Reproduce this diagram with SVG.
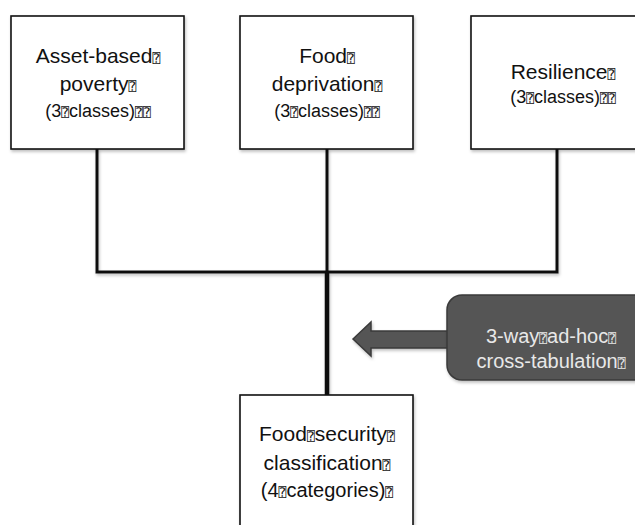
<svg xmlns="http://www.w3.org/2000/svg" width="635" height="525" viewBox="0 0 635 525">
  <defs>
    <filter id="sh" filterUnits="userSpaceOnUse" x="0" y="0" width="635" height="525">
      <feDropShadow dx="1" dy="2" stdDeviation="1.5" flood-color="#000" flood-opacity="0.25"/>
    </filter>
  </defs>
  <style>
    .box { fill: #ffffff; stroke: #111111; stroke-width: 1.6; filter: url(#sh); }
    .t { font-family: "Liberation Sans", Arial, sans-serif; font-size: 21px; fill: #111111; text-anchor: middle; }
    .s { font-size: 18px; }
    .q { font-family: "DejaVu Sans Mono", "DejaVu Sans", monospace; font-size: 13px; }
    .ln { stroke: #111111; stroke-width: 3; fill: none; }
    .callout { fill: #555555; stroke: #3a3a3a; stroke-width: 1.5; filter: url(#sh); }
    .ct { font-family: "Liberation Sans", Arial, sans-serif; font-size: 20px; fill: #e8e8e8; text-anchor: middle; }
  </style>
  <rect width="635" height="525" fill="#ffffff"/>

  <g id="connectors">
    <g filter="url(#sh)">
      <path class="ln" d="M97 149 V272 H557 V149"/>
      <path class="ln" d="M327 149 V272"/>
      <path class="ln" d="M327 272 V395" style="stroke-width:4.5"/>
    </g>
    <polygon class="callout" points="353,339 371,322 371,331 448,331 448,348 371,348 371,356"/>
  </g>

  <g id="node-asset">
    <rect class="box" x="11" y="16" width="173" height="133"/>
    <text class="t" x="98" y="63">Asset-based<tspan class="q">⍰</tspan></text>
    <text class="t" x="98" y="91">poverty<tspan class="q">⍰</tspan></text>
    <text class="t s" x="98" y="117">(3<tspan class="q">⍰</tspan>classes)<tspan class="q">⍰⍰</tspan></text>
  </g>

  <g id="node-food">
    <rect class="box" x="240" y="16" width="173" height="133"/>
    <text class="t" x="327" y="63">Food<tspan class="q">⍰</tspan></text>
    <text class="t" x="327" y="91">deprivation<tspan class="q">⍰</tspan></text>
    <text class="t s" x="327" y="117">(3<tspan class="q">⍰</tspan>classes)<tspan class="q">⍰⍰</tspan></text>
  </g>

  <g id="node-resilience">
    <rect class="box" x="471" y="16" width="173" height="133"/>
    <text class="t" x="563" y="79">Resilience<tspan class="q">⍰</tspan></text>
    <text class="t s" x="563" y="103">(3<tspan class="q">⍰</tspan>classes)<tspan class="q">⍰⍰</tspan></text>
  </g>

  <g id="node-callout">
    <rect class="callout" x="447" y="295" width="210" height="85" rx="15" ry="15"/>
    <text class="ct" x="551" y="343">3-way<tspan class="q">⍰</tspan>ad-hoc<tspan class="q">⍰</tspan></text>
    <text class="ct" x="551" y="368">cross-tabulation<tspan class="q">⍰</tspan></text>
  </g>

  <g id="node-foodsecurity">
    <rect class="box" x="240" y="395" width="173" height="135"/>
    <text class="t" x="327" y="441">Food<tspan class="q">⍰</tspan>security<tspan class="q">⍰</tspan></text>
    <text class="t" x="327" y="470">classification<tspan class="q">⍰</tspan></text>
    <text class="t" x="327" y="497" style="font-size:20px">(4<tspan class="q">⍰</tspan>categories)<tspan class="q">⍰</tspan></text>
  </g>
</svg>
